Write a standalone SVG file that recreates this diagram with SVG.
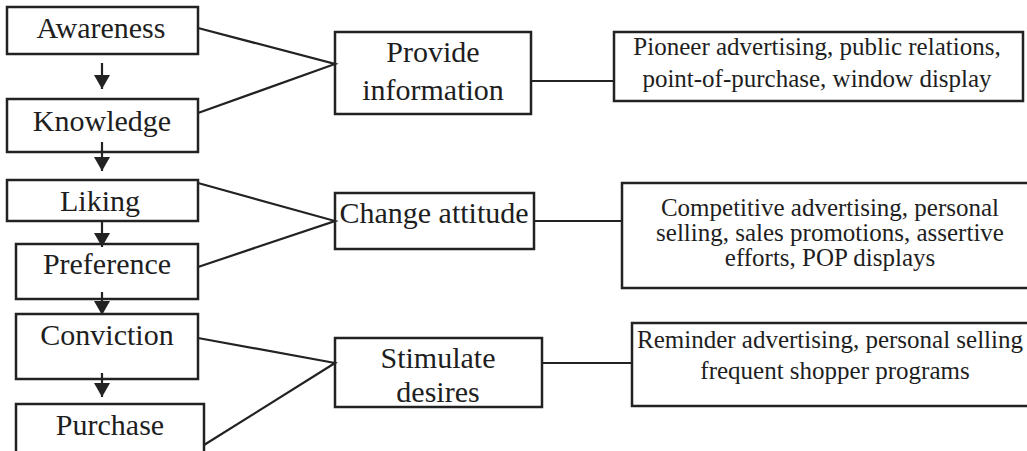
<svg xmlns="http://www.w3.org/2000/svg" width="1027" height="451" viewBox="0 0 1027 451">
  <style>
    .box { fill: #ffffff; stroke: #222222; stroke-width: 2.5; }
    .link { fill: none; stroke: #222222; stroke-width: 2.2; }
    text { font-family: 'Liberation Serif', 'DejaVu Serif', serif; fill: #1e1e1e; text-anchor: middle; }
    .stage { font-size: 30px; }
    .goal { font-size: 30px; }
    .tools { font-size: 25px; }
  </style>
  <defs>
    <!-- filled triangular head, drawn pointing along +x so orient="auto" follows the line -->
    <marker id="head" viewBox="0 0 14 16" refX="14" refY="8" markerWidth="14" markerHeight="16" markerUnits="userSpaceOnUse" orient="auto">
      <path d="M0,0 L14,8 L0,16 Z" fill="#222222"/>
    </marker>
  </defs>

  <rect width="1027" height="451" fill="#ffffff"/>

  <!-- hierarchy-of-effects stages -->
  <g id="awareness">
    <rect class="box" x="7" y="7" width="191" height="47"/>
    <text class="stage" x="101" y="38">Awareness</text>
  </g>
  <g id="knowledge">
    <rect class="box" x="7" y="99" width="191" height="53"/>
    <text class="stage" x="102" y="131">Knowledge</text>
  </g>
  <g id="liking">
    <rect class="box" x="7" y="180" width="191" height="41"/>
    <text class="stage" x="100" y="211">Liking</text>
  </g>
  <g id="preference">
    <rect class="box" x="16" y="244" width="182" height="55"/>
    <text class="stage" x="107" y="274">Preference</text>
  </g>
  <g id="conviction">
    <rect class="box" x="16" y="314" width="182" height="65"/>
    <text class="stage" x="107" y="345">Conviction</text>
  </g>
  <g id="purchase">
    <rect class="box" x="16" y="404" width="188" height="60"/>
    <text class="stage" x="110" y="435">Purchase</text>
  </g>

  <!-- promotional objectives -->
  <g id="provide-information">
    <rect class="box" x="335" y="32" width="196" height="82"/>
    <text class="goal" x="433" y="62">Provide</text>
    <text class="goal" x="433" y="100">information</text>
  </g>
  <g id="change-attitude">
    <rect class="box" x="335" y="193" width="199" height="56"/>
    <text class="goal" x="434" y="223">Change attitude</text>
  </g>
  <g id="stimulate-desires">
    <rect class="box" x="335" y="338" width="207" height="69"/>
    <text class="goal" x="438" y="368">Stimulate</text>
    <text class="goal" x="438" y="402">desires</text>
  </g>

  <!-- promotional tools -->
  <g id="tools-information">
    <rect class="box" x="614" y="32" width="409" height="69"/>
    <text class="tools" x="817" y="55">Pioneer advertising, public relations,</text>
    <text class="tools" x="817" y="87">point-of-purchase, window display</text>
  </g>
  <g id="tools-attitude">
    <rect class="box" x="622" y="183" width="420" height="105"/>
    <text class="tools" x="830" y="216">Competitive advertising, personal</text>
    <text class="tools" x="830" y="241">selling, sales promotions, assertive</text>
    <text class="tools" x="830" y="266">efforts, POP displays</text>
  </g>
  <g id="tools-desires">
    <rect class="box" x="632" y="323" width="410" height="83"/>
    <text class="tools" x="830" y="348">Reminder advertising, personal selling</text>
    <text class="tools" x="835" y="379">frequent shopper programs</text>
  </g>

  <g id="connectors">
    <!-- stage sequence arrows -->
    <line class="link" x1="102" y1="63" x2="102" y2="89" marker-end="url(#head)"/>
    <line class="link" x1="102" y1="142" x2="102" y2="171" marker-end="url(#head)"/>
    <line class="link" x1="102" y1="221" x2="102" y2="247" marker-end="url(#head)"/>
    <line class="link" x1="102" y1="292" x2="102" y2="315" marker-end="url(#head)"/>
    <line class="link" x1="102" y1="373" x2="102" y2="397" marker-end="url(#head)"/>

    <!-- stages to objectives -->
    <polyline class="link" points="198,28 335,64 198,113"/>
    <polyline class="link" points="198,183 335,221 198,267"/>
    <polyline class="link" points="198,338 335,363 204,445"/>

    <!-- objectives to tools -->
    <line class="link" x1="531" y1="81" x2="614" y2="81"/>
    <line class="link" x1="534" y1="221" x2="622" y2="221"/>
    <line class="link" x1="542" y1="363" x2="632" y2="363"/>
  </g>
</svg>
